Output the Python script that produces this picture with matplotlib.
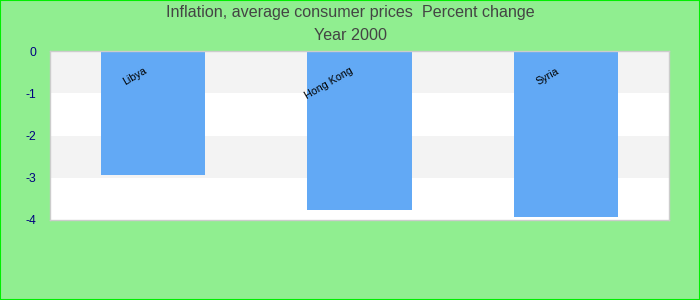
import matplotlib
matplotlib.use("Agg")
import matplotlib.pyplot as plt
from matplotlib.patches import Rectangle

categories = ["Libya", "Hong Kong", "Syria"]
values = [-2.93, -3.76, -3.92]
yticks = [0, -1, -2, -3, -4]

fig = plt.figure(figsize=(7, 3), dpi=100, facecolor="#90EE90")
fig.patches.append(Rectangle((0, 0), 1, 1, transform=fig.transFigure, fill=False,
                             edgecolor="#00ee00", linewidth=1.5))
ax = fig.add_axes([50/700, 1-220/300, 619/700, 169/300])
ax.set_facecolor("white")
for i in range(4):
    if i % 2 == 0:
        ax.axhspan(-i, -i-1, color="#f3f3f3", zorder=0, lw=0)
x = list(range(len(categories)))
ax.bar(x, values, width=0.505, color="#62a9f5", zorder=2)
for xi, lab in zip(x, categories):
    ax.text(xi - 0.035, -0.45, lab, rotation=30, ha="right", va="center",
            rotation_mode="anchor", fontsize=7.7, color="black", zorder=3,
            family="Liberation Sans")
ax.set_xlim(-0.5, 2.5)
ax.set_ylim(-4, 0)
ax.set_xticks([])
ax.set_yticks(yticks)
ax.set_yticklabels([str(t) for t in yticks], color="#000080", fontsize=8.7,
                   family="Liberation Sans")
ax.tick_params(axis="y", length=0, pad=10)
for s in ax.spines.values():
    s.set_color("#cccccc")
    s.set_linewidth(1)
fig.text(0.5, 1-13/300, "Inflation, average consumer prices  Percent change",
         ha="center", va="center", fontsize=11.6, color="#444444", family="Liberation Sans")
fig.text(0.5, 1-36/300, "Year 2000", ha="center", va="center", fontsize=11.6,
         color="#444444", family="Liberation Sans")
fig.savefig("out.png", dpi=100, facecolor=fig.get_facecolor())
